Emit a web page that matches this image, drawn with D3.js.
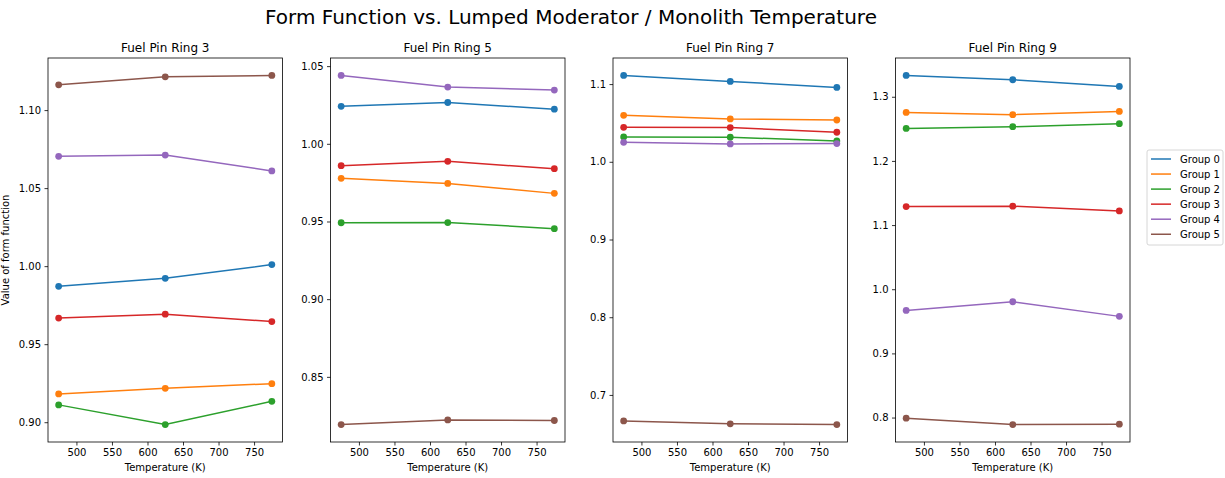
<!DOCTYPE html>
<html>
<head>
<meta charset="utf-8">
<script src="https://cdn.jsdelivr.net/npm/d3@7"></script>
<style>
body { margin: 0; background: #fff; }
text { font-family: "DejaVu Sans", sans-serif; fill: #000; }
</style>
</head>
<body>
<div id="chart"></div>
<script>
var temperatures = [475, 625, 775];
var xTicks = [500, 550, 600, 650, 700, 750];
var groupNames = ['Group 0', 'Group 1', 'Group 2', 'Group 3', 'Group 4', 'Group 5'];
var groupColors = ['#1f77b4', '#ff7f0e', '#2ca02c', '#d62728', '#9467bd', '#8c564b'];
var ringTitles = ['Fuel Pin Ring 3', 'Fuel Pin Ring 5', 'Fuel Pin Ring 7', 'Fuel Pin Ring 9'];

// one row per group, one value per temperature
var ring3Values = [
    [0.9871, 0.9922, 1.0010],
    [0.9181, 0.9217, 0.9247],
    [0.9111, 0.8985, 0.9134],
    [0.9667, 0.9692, 0.9645],
    [1.0704, 1.0712, 1.0610],
    [1.1162, 1.1213, 1.1222]
];
var ring5Values = [
    [1.0241, 1.0266, 1.0223],
    [0.9778, 0.9745, 0.9681],
    [0.9492, 0.9493, 0.9454],
    [0.9859, 0.9887, 0.9840],
    [1.0440, 1.0365, 1.0346],
    [0.8193, 0.8223, 0.8219]
];
var ring7Values = [
    [1.1111, 1.1034, 1.0957],
    [1.0598, 1.0551, 1.0538],
    [1.0320, 1.0316, 1.0268],
    [1.0444, 1.0440, 1.0380],
    [1.0251, 1.0230, 1.0234],
    [0.6666, 0.6628, 0.6619]
];
var ring9Values = [
    [1.3332, 1.3265, 1.3161],
    [1.2756, 1.2720, 1.2772],
    [1.2507, 1.2533, 1.2580],
    [1.1288, 1.1294, 1.1221],
    [0.9670, 0.9805, 0.9577],
    [0.7990, 0.7891, 0.7896]
];
var ring3Ticks = [0.90, 0.95, 1.00, 1.05, 1.10];
var ring5Ticks = [0.85, 0.90, 0.95, 1.00, 1.05];
var ring7Ticks = [0.7, 0.8, 0.9, 1.0, 1.1];
var ring9Ticks = [0.8, 0.9, 1.0, 1.1, 1.2, 1.3];

var rings = [
    {title: ringTitles[0], values: ring3Values, ticks: ring3Ticks, fmt: '.2f'},
    {title: ringTitles[1], values: ring5Values, ticks: ring5Ticks, fmt: '.2f'},
    {title: ringTitles[2], values: ring7Values, ticks: ring7Ticks, fmt: '.1f'},
    {title: ringTitles[3], values: ring9Values, ticks: ring9Ticks, fmt: '.1f'}
];

var W = 1225, H = 478;
var plotTop = 58, plotBottom = 442;
var panelW = 234.5;
var panelStep = 282.5;
var firstLeft = 48;

var svg = d3.select('#chart').append('svg')
    .attr('width', W)
    .attr('height', H);

svg.append('text')
    .attr('x', 571)
    .attr('y', 24)
    .attr('text-anchor', 'middle')
    .style('font-size', '20px')
    .text('Form Function vs. Lumped Moderator / Monolith Temperature');

// matplotlib style 5% margins
function pad(ext) {
    var m = (ext[1] - ext[0]) * 0.05;
    return [ext[0] - m, ext[1] + m];
}

var x = d3.scaleLinear()
    .domain(pad(d3.extent(temperatures)));

rings.forEach(function (ring, i) {
    var left = firstLeft + i * panelStep;
    var h = plotBottom - plotTop;
    var g = svg.append('g').attr('transform', 'translate(' + left + ',' + plotTop + ')');

    var xs = x.copy().range([0, panelW]);
    var y = d3.scaleLinear()
        .domain(pad(d3.extent(d3.merge(ring.values))))
        .range([h, 0]);

    var xAxis = g.append('g')
        .attr('transform', 'translate(0,' + h + ')')
        .call(d3.axisBottom(xs).tickValues(xTicks).tickSize(3.5).tickPadding(3.5).tickFormat(d3.format('d')));
    var yAxis = g.append('g')
        .call(d3.axisLeft(y).tickValues(ring.ticks).tickSize(3.5).tickPadding(3.5).tickFormat(d3.format(ring.fmt)));

    [xAxis, yAxis].forEach(function (a) {
        a.select('.domain').remove();
        a.selectAll('line').attr('stroke', '#000').attr('stroke-width', 0.8);
        a.selectAll('text').style('font-size', '10px').style('font-family', '"DejaVu Sans", sans-serif').attr('fill', '#000');
    });

    var line = d3.line()
        .x(function (d, k) { return xs(temperatures[k]); })
        .y(function (d) { return y(d); });

    ring.values.forEach(function (vals, gi) {
        g.append('path')
            .datum(vals)
            .attr('d', line)
            .attr('fill', 'none')
            .attr('stroke', groupColors[gi])
            .attr('stroke-width', 1.5);
        g.selectAll('.dot' + gi)
            .data(vals)
            .enter().append('circle')
            .attr('class', 'dot' + gi)
            .attr('cx', function (d, k) { return xs(temperatures[k]); })
            .attr('cy', function (d) { return y(d); })
            .attr('r', 3.4)
            .attr('fill', groupColors[gi]);
    });

    // frame
    g.append('rect')
        .attr('width', panelW)
        .attr('height', h)
        .attr('fill', 'none')
        .attr('stroke', '#000')
        .attr('stroke-width', 0.8);

    g.append('text')
        .attr('x', panelW / 2)
        .attr('y', -6)
        .attr('text-anchor', 'middle')
        .style('font-size', '12px')
        .text(ring.title);

    g.append('text')
        .attr('x', panelW / 2)
        .attr('y', h + 29)
        .attr('text-anchor', 'middle')
        .style('font-size', '10px')
        .text('Temperature (K)');

    if (i === 0) {
        g.append('text')
            .attr('transform', 'translate(' + (9 - left) + ',' + (h / 2) + ') rotate(-90)')
            .attr('text-anchor', 'middle')
            .style('font-size', '10px')
            .text('Value of form function');
    }
});

// legend
var lg = svg.append('g').attr('transform', 'translate(1147,150)');
lg.append('rect')
    .attr('width', 76)
    .attr('height', 95)
    .attr('rx', 2)
    .attr('fill', '#fff')
    .attr('stroke', '#ccc')
    .attr('stroke-width', 0.8);
groupNames.forEach(function (name, gi) {
    var yy = 9 + gi * 15.05;
    lg.append('line')
        .attr('x1', 4).attr('x2', 24)
        .attr('y1', yy).attr('y2', yy)
        .attr('stroke', groupColors[gi])
        .attr('stroke-width', 1.5);
    lg.append('text')
        .attr('x', 33)
        .attr('y', yy)
        .attr('dy', '0.35em')
        .style('font-size', '10px')
        .text(name);
});
</script>
</body>
</html>
